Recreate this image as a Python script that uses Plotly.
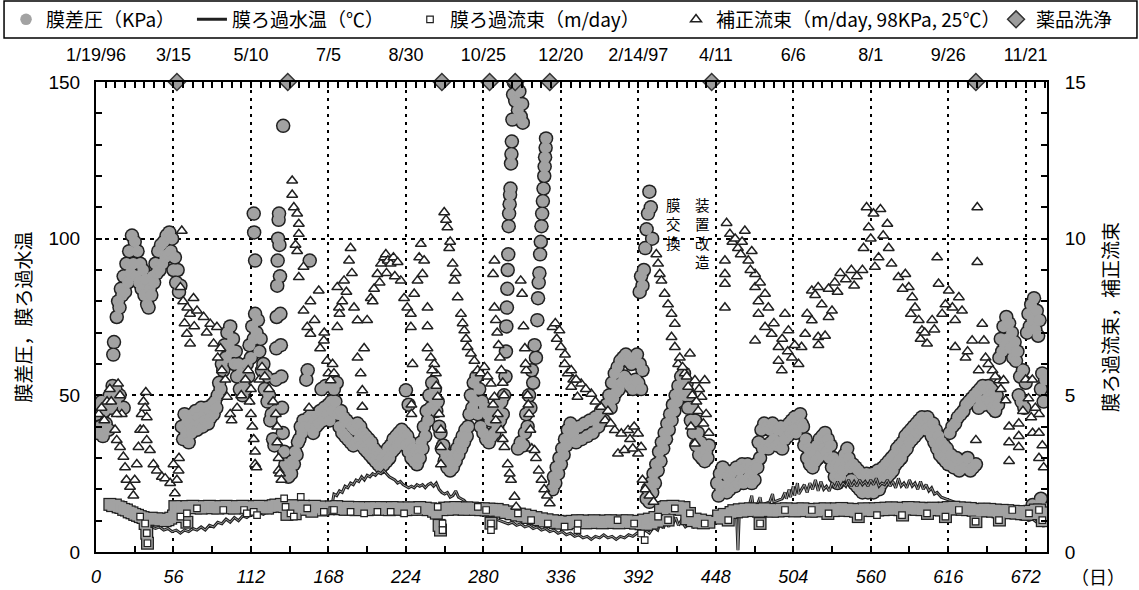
import plotly.graph_objects as go

# ---------------- data ----------------
TICK_DAYS = [0, 56, 112, 168, 224, 280, 336, 392, 448, 504, 560, 616, 672]
TOP_DATES = ["1/19/96", "3/15", "5/10", "7/5", "8/30", "10/25", "12/20",
             "2/14/97", "4/11", "6/6", "8/1", "9/26", "11/21"]

# 膜差圧 (kPa) : (day, value)
pressure = [
    (0,44),(1,38),(2,46),(3,40),(4,48),(5,37),(6,45),(7,41),(8,47),(9,39),(10,50),(11,46),(12,53),(12.5,63),(13,67),
    (14,52),(14,48),(15,75),(16,80),(17,78),(17,50),(18,84),(19,82),(20,88),(20,46),(21,83),(22,92),(23,86),(24,96),(25,89),
    (26,101),(27,92),(28,99),(29,88),(30,96),(31,86),(32,92),(33,84),(34,90),(35,82),(36,87),(37,79),(38,78),(39,84),
    (40,82),(41,88),(42,86),(43,92),(44,89),(45,96),(46,90),(47,98),(48,92),(49,99),(50,94),(51,101),(52,95),(53,102),
    (54,96),(55,100),(56,90),(57,94),(58,86),(59,90),(60,83),(61,85),
    (62,40),(63,36),(64,44),(65,38),(66,42),(67,35),(68,41),(69,38),(70,44),(71,40),(72,45),(73,39),(74,43),(75,41),
    (76,46),(77,40),(78,44),(79,42),(80,46),(81,41),(82,45),(83,43),(84,47),(85,44),(86,48),(87,46),(88,50),
    (89,54),(90,52),(91,60),(92,58),(93,66),(94,62),(95,70),(96,66),(97,72),(98,64),(99,68),(100,60),(101,64),(102,56),
    (103,60),(104,52),(105,57),(106,50),(107,55),(108,52),(109,60),(110,56),(111,66),(112,62),(113,72),(114,68),(115,76),
    (116,70),(117,74),(118,64),(119,68),(120,58),(121,60),(122,52),(123,56),(124,48),(125,50),(126,42),(127,44),(128,36),
    (114,108),(114.3,102),(115,93),
    (129,34),(129.5,45),(130,55),(130.3,65),(130.6,75),(131,85),(131.3,93),(131.6,100),(132,106),(132.3,108),(132.6,98),
    (133,88),(133.3,76),(133.6,66),(134,56),(134.5,46),(135,38),(135.3,136),(136,32),(137,28),(138,26),(139,24),(140,27),
    (141,25),(142,29),(143,28),(144,32),(145,31),(146,35),
    (147,36),(148,40),(149,38),(150,42),(151,40),(152,55),(153,58),(154,43),(154.5,93),(155,40),(156,44),(157,38),(158,42),
    (159,40),(160,44),(161,41),(162,45),(163,52),(164,42),(165,46),(166,53),(167,44),(168,47),(169,42),(170,48),(171,45),
    (172,52),(173,48),(174,54),
    (175,44),(176,40),(177,45),(178,38),(179,43),(180,37),(181,42),(182,36),(183,41),(184,35),(185,40),(186,34),(187,39),
    (188,35),(189,41),(190,36),(191,40),(192,34),(193,38),(194,33),(195,37),(196,32),(197,36),(198,31),(199,35),(200,30),
    (201,33),(202,29),(203,32),(204,28),(205,31),(206,27),(207,30),(208,28),(209,31),(210,29),(211,33),(212,30),(213,34),
    (214,32),(215,36),(216,33),(217,37),(218,34),(219,38),(220,35),(221,39),(222,36),(223,38),(224,34),(224,51.6),(225,37),
    (226,32),(226,47),(227,35),(228,30),(229,33),(230,29),(231,32),(232,28),(233,31),(234,30),(235,35),(236,33),(237,40),
    (238,37),(239,45),(240,42),(241,50),(242,46),(243,54),(244,49),(245,52),(246,45),(247,48),(248,40),(249,38),(250,33),
    (251,34),(252,29),(253,31),(254,27),(255,29),(256,26),(257,29),(258,27),(259,31),(260,29),(261,33),(262,31),(263,35),
    (264,33),(265,37),(266,35),(267,39),(268,37),(269,40),
    (270,44),(271,50),(272,46),(273,54),(274,48),(275,56),(276,44),(277,52),(278,40),(279,48),(280,38),(281,46),(282,36),
    (283,44),(284,35),(285,42),(286,37),(287,45),(288,38),(289,46),(290,40),(291,47),(292,42),(293,48),(294,44),(295,50),
    (296,56),(296.3,64),(296.6,72),(297,78),(297.3,84),(297.6,90),(298,95),(298.3,104),(298.6,108),(299,111),(299.3,114),
    (299.6,116),(300,124),(300.3,127),(300.6,131),(301,138),(301.5,146),(302,150),(303,144),(304,149),(305,141),(306,147),
    (307,139),(308,143),(308.5,137),
    (305,33),(307,35),(309,34),(310,38),(311,44),(312,40),(313,50),(314,46),(315,58),(316,54),(317,66),(318,62),(319,74),
    (319.5,81),(320,86),(320.5,89),(321,95),(321.5,99),(322,104),(322.5,108),(323,112),(323.5,116),(324,120),(324.3,123),
    (324.6,126),(325,129),(325.3,132),
    (330,20),(331,24),(332,22),(333,27),(334,25),(335,30),(336,28),(337,33),(338,31),(339,36),(340,34),(341,39),(342,37),
    (343,41),(344,36),
    (345,38),(347,35),(349,40),(351,36),(353,41),(355,37),(357,42),(359,38),(361,43),(363,40),(365,45),(367,42),(369,47),
    (371,50),(372,46),(373,54),(374,49),(375,57),(376,51),(377,59),(378,52),(379,61),(380,54),(381,62),(382,56),(383,63),
    (384,55),(385,61),(386,53),(387,60),(388,52),(389,62),(390,55),(391,63),(392,54),(393,60),(394,52),(395,58),
    (393,83),(394,88),(395,85),(396,90),(397,97),(398,103),(399,108),(400,115),(401,110),(402,100),
    (398,17),(399,20),(400,16),(401,22),(402,19),(403,25),(404,22),(405,28),(406,26),(407,32),(408,29),(409,35),(410,33),
    (411,38),(412,36),(413,41),(414,39),(415,44),(416,42),(417,47),(418,45),(419,50),(420,48),(421,53),(422,51),(423,56),
    (424,52),(425,57),(426,50),(427,54),(428,46),(429,50),(430,42),(431,46),(432,38),(433,42),(434,34),(435,38),(436,31),
    (437,35),(438,30),(439,33),(440,29),(441,32),(442,30),(443,34),
    (449,22),(450,18),(451,25),(452,20),(453,27),(454,21),(455,26),(456,19),(457,24),(458,20),(459,25),(460,22),(461,26),
    (462,21),(463,27),(464,22),(465,26),(466,23),(467,28),(468,22),(469,27),(470,23),(471,28),(472,24),(473,27),(474,22),
    (475,26),(476,23),(477,28),(478,27),(479,35),(480,30),(481,39),(482,33),(483,41),(484,34),(485,40),(486,33),(487,39),
    (488,35),(489,41),(490,36),(491,40),(492,34),(493,39),(494,35),(495,40),(496,33),(497,38),(498,36),(499,40),(500,37),
    (501,41),(502,38),(503,42),(504,39),(505,43),(506,38),(507,42),(508,40),(509,44),(510,41),(511,40),(512,34),(513,36),
    (514,30),(515,33),(516,28),(517,32),(518,27),(519,31),(520,29),(521,34),(522,30),(523,36),(524,31),(525,37),(526,33),
    (527,38),(528,32),(529,36),(530,30),(531,34),(532,27),(533,30),(534,24),(535,28),(536,22),(537,27),(538,24),(539,29),
    (540,26),(541,31),(542,29),(543,33),(544,30),(545,27),(546,23),(547,28),(548,22),(549,27),(550,21),(551,26),(552,20),
    (553,25),(554,19),(555,24),(556,20),(557,25),(558,19),(559,24),(560,20),(561,25),(562,19),(563,24),(564,21),(565,26),
    (566,20),(567,25),(568,22),(569,27),(570,23),(571,28),(572,24),(573,29),(574,25),(575,30),(576,26),(577,31),(578,28),
    (579,33),(580,29),(581,34),(582,30),(583,35),(584,32),(585,37),(586,33),(587,38),(588,35),(589,39),(590,36),(591,40),
    (592,37),(593,41),(594,38),(595,42),(596,39),(597,43),(598,40),(599,42),(600,39),(601,43),(602,40),
    (603,40),(604,37),(605,41),(606,35),(607,39),(608,33),(609,37),(610,31),(611,35),(612,30),(613,34),(614,29),(615,33),
    (616,28),(617,38),(618,31),(619,40),(620,27),(621,41),(622,30),(623,43),(624,26),(625,44),(626,29),(627,45),(628,27),
    (629,47),(630,30),(631,48),(632,26),(633,49),(634,27),(635,50),(636,28),(637,51),(638,46),(639,52),(640,48),(641,53),
    (642,47),(643,52),(644,49),(645,53),(646,48),(647,52),(648,46),(649,51),(650,45),(651,50),(652,47),
    (653,62),(654,68),(655,64),(656,72),(657,66),(658,75),(659,68),(660,73),(661,65),(662,70),(663,62),(664,67),(665,61),
    (666,64),(667,50),(668,56),(669,48),(670,58),(671,46),(672,54),(673,70),(674,76),(675,72),(676,79),(677,74),(678,81),
    (679,71),(680,77),(681,69),(682,74),(683,52),(684,57),(685,48),(686,55),(677,15),(680,13),(683,17),(685,14),
]

# 膜ろ過水温 (°C) : (day, value); None marks a gap
temperature = [
    (10,14.5),(13,13.5),(16,13),(19,12),(22,11.5),(25,10.5),(28,10),(31,9.5),(34,9),(37,8.5),(40,8),(43,7.5),(46,8),
    (49,7),(52,7.5),(55,6.5),(58,7),(61,6),(64,7),(67,6.5),(70,7.5),(73,7),(76,8),(79,7),(82,8.5),(85,8),(88,9.5),(91,9),
    (94,10.5),(97,9.5),(100,11),(103,10),(106,11.5),(109,11),(112,12),(115,11.5),(118,12.5),(121,12),(124,13),(127,12.5),
    (130,13.5),(133,13),(136,14),(139,13.5),(142,14.5),(145,14),(148,15),(151,14.5),(154,15),(157,14.5),(160,15.5),
    (163,15),(166,15.5),(169,15),(171,16),(172,18.5),(174,18),(176,19.5),(178,19),(180,21),(182,20.5),(184,22),(186,21.5),
    (188,23),(190,22.5),(192,24),(194,23),(196,24.5),(198,24),(200,25),(202,24.5),(204,25.5),(206,25),(208,26),(210,25),
    (212,24),(214,23.5),(216,23),(218,22),(220,22.5),(222,21.5),(224,21),(226,20.5),(228,21),(230,20.5),(232,21.5),
    (234,21),(236,21.5),(238,20.5),(240,21.5),(242,22),(244,21),(246,22),(248,20),(250,19),(252,18.5),(254,19),(256,17.5),
    (258,18),(260,19.5),(262,17.5),(264,17),(266,16.5),(268,15.5),(271,14.5),(274,13.5),(277,13),(280,12),(283,11.5),
    (286,11),(289,10.5),(292,10),(295,9.5),(298,9),(301,9.5),(304,8.5),(307,9),(310,8),(313,8.5),(316,7.5),(319,8),
    (322,7),(325,7.5),(328,6.5),(331,7),(334,6),(337,6.5),(340,5.5),(343,6),(346,5),(349,5.5),(352,4.5),(355,5),(358,4),
    (361,5),(364,4.5),(367,5.5),(370,4.5),(373,5),(376,4),(379,5),(382,4.5),(385,5.5),(388,5),(391,6),(394,5.5),(397,7),
    (400,6),(403,8),(406,7),(408,9.5),(410,7.5),(412,10),(414,8),(416,12.5),(417,9),(419,11),(421,8.5),(423,10),(426,8),
    (429,9),(432,8),(435,9.5),(438,8.5),(441,9),(444,8),(446,None),
    (450,11),(453,12),(456,12.5),(459,13),(461,13),(463,12),(464,0.6),(465,12.5),(466,13.5),(469,14),(472,14.5),(474,18),
    (475,14.5),(478,15),(480,17.5),(481,15),(484,15.5),(487,16),(489,18.5),(490,16),(493,16.5),(496,17),(498,19),(499,17),
    (501,20),(502,17.5),(504,21),(505,18),(507,22),(508,18.5),(510,20),(512,21.5),(514,19),(516,22),(518,20),(520,23),
    (522,19.5),(524,22.5),(526,20),(528,21),(530,19.5),(532,22),(534,20.5),(536,22.5),(538,20.5),(540,22),(542,21),
    (544,23),(546,21),(548,22.5),(550,21),(552,23),(554,21.5),(556,22.5),(558,21),(560,23),(562,21.5),(564,23.5),(566,21),
    (568,22),(570,21.5),(572,23),(574,21),(576,22.5),(578,20.5),(580,23.5),(582,21),(584,22),(586,20.5),(588,23),(590,21),
    (592,22),(594,20),(596,22.5),(598,20),(600,21.5),(602,19.5),(604,20.5),(606,18.5),(608,19),(611,17.5),(614,17),
    (617,16.5),(620,16),(623,15.5),(626,15),(629,14.5),(632,14),(635,13.5),(638,13),(641,13.5),(644,12.5),(647,13),
    (650,12),(653,12.5),(656,11.5),(659,12),(662,11),(665,11.5),(668,10.5),(671,11),(674,10),(677,10.5),(680,9.5),
    (683,10),(685,8),(686,10),
]

# 膜ろ過流束 (m/day), dense daily readings forming the band
flux = [
    (10,1.52),(12,1.48),(14,1.50),(16,1.44),(18,1.42),(20,1.36),(22,1.34),(24,1.28),(26,1.25),(28,1.20),(30,1.17),
    (32,1.13),(34,1.10),(35.5,0.91),(36.7,0.60),(37.2,0.28),(38,1.06),(40,1.08),(42,1.04),(44,1.06),(46,1.02),(48,1.05),
    (50,1.00),(52,1.03),(54,1.08),(56,1.15),(57,1.45),(59,1.40),(61,1.13),(62,1.44),(64,1.40),(65.7,0.95),(66,1.45),
    (68,1.42),(70,1.46),(72,1.41),(74,1.44),(76,1.40),(78,1.45),(80,1.42),(82,1.46),(84,1.41),(86,1.44),(88,1.40),
    (90,1.45),(92,1.42),(94,1.46),(96,1.41),(98,1.44),(100,1.40),(102,1.45),(104,1.42),(106,1.46),(108,1.41),(110,1.44),
    (112,1.40),(114,1.45),(116,1.42),(118,1.46),(120,1.41),(122,1.44),(124,1.40),(126,1.45),(128,1.48),(130,1.50),
    (132,1.46),(134,1.52),(136,1.45),(138,1.20),(140,1.42),(142,1.48),(144,1.22),(146,1.44),(148,1.40),(150,1.46),
    (152,1.36),(154,1.44),(156,1.30),(158,1.46),(160,1.40),(162,1.44),(164,1.34),(166,1.42),(168,1.38),(170,1.44),
    (172,1.40),(174,1.45),(176,1.38),(178,1.42),(180,1.36),(182,1.43),(184,1.38),(186,1.41),(188,1.35),(190,1.42),
    (192,1.37),(194,1.40),(196,1.35),(198,1.42),(200,1.38),(202,1.41),(204,1.36),(206,1.42),(208,1.37),(210,1.40),
    (212,1.35),(214,1.42),(216,1.38),(218,1.41),(220,1.36),(222,1.40),(224,1.35),(226,1.41),(228,1.37),(230,1.40),
    (232,1.36),(234,1.42),(236,1.38),(238,1.40),(240,1.35),(242,1.38),(244,1.30),(246,1.24),(248,0.85),(249,0.70),
    (250,1.35),(252,1.40),(254,1.36),(256,1.41),(258,1.37),(260,1.42),(262,1.38),(264,1.40),(266,1.36),(268,1.41),
    (270,1.37),(272,1.40),(274,1.36),(276,1.39),(278,1.35),(280,1.38),(282,1.34),(284,1.37),(285.5,0.92),(286,1.36),
    (288,1.33),(290,1.36),(292,1.30),(294,1.32),(296,1.26),(298,1.28),(300,1.22),(302,1.25),(304,1.18),(306,1.21),
    (308,1.15),(310,1.18),(312,1.10),(314,1.14),(316,1.06),(318,1.10),(320,1.03),(322,1.06),(324,0.99),(326,1.03),
    (328,0.97),(330,1.00),(332,0.94),(334,0.98),(336,0.92),(338,0.96),(340,0.90),(342,0.95),(344,0.98),(346,0.94),
    (348,1.00),(350,0.95),(352,0.99),(354,0.93),(356,0.98),(358,0.94),(360,1.00),(362,0.95),(364,0.98),(366,0.93),
    (368,0.99),(370,0.95),(372,1.00),(374,0.94),(376,0.98),(378,0.93),(380,0.99),(382,0.95),(384,1.00),(386,0.94),
    (388,0.97),(390,0.92),(392,0.98),(394,0.90),(396,1.02),(398,0.88),(400,1.05),(402,0.92),(404,1.10),(406,0.98),
    (408,1.42),(410,1.38),(412,1.45),(413.5,1.02),(415,1.40),(417,1.46),(419,1.38),(421,1.44),(423,1.36),(425,1.42),
    (427,1.06),(429,1.23),(431,1.00),(433,1.05),(435,0.95),(437,1.02),(439,0.93),(441,0.98),(443,0.95),
    (450,1.15),(452,1.08),(454,1.20),(456,1.12),(457,1.02),(459,1.26),(461,1.32),(463,1.28),(465,1.35),(467,1.30),
    (469,1.37),(471,1.32),(473,1.38),(475,1.33),(477,1.36),(479,1.30),(480,0.91),(481,1.35),(483,1.38),(485,1.32),
    (487,1.36),(489,1.30),(491,1.35),(493,1.31),(495,1.37),(497,1.32),(499,1.38),(501,1.33),(503,1.36),(505,1.31),
    (507,1.37),(509,1.32),(511,1.38),(513,1.33),(515,1.36),(517,1.30),(519,1.35),(521,1.31),(523,1.37),(525,1.33),
    (527,1.38),(529,1.23),(531,1.36),(533,1.32),(535,1.38),(537,1.34),(539,1.39),(541,1.33),(543,1.37),(545,1.32),
    (547,1.36),(549,1.30),(551,1.13),(553,1.34),(555,1.38),(557,1.33),(559,1.37),(561,1.32),(563,1.38),(565,1.34),
    (567,1.39),(569,1.35),(571,1.40),(573,1.36),(575,1.41),(577,1.37),(579,1.40),(581,1.35),(583,1.18),(585,1.38),
    (587,1.42),(589,1.37),(591,1.41),(593,1.36),(595,1.40),(597,1.35),(599,1.39),(601,1.23),(603,1.36),(605,1.40),
    (607,1.35),(609,1.39),(611,1.34),(613,1.40),(614,1.13),(616,1.42),(618,1.37),(620,1.43),(622,1.38),(624,1.41),
    (626,1.36),(628,1.40),(630,1.35),(632,1.39),(634,1.33),(636,0.97),(638,1.36),(640,1.31),(642,1.37),(644,1.32),
    (646,1.36),(648,1.30),(650,1.34),(652,1.28),(653,1.02),(655,1.33),(657,1.27),(659,1.32),(661,1.25),(663,1.30),
    (665,1.24),(667,1.29),(669,1.22),(671,1.28),(673,1.20),(675,1.30),(677,1.22),(679,1.34),(681,1.26),(682,1.34),
    (684,1.00),(686,1.25),
]

# individually visible 膜ろ過流束 squares (m/day)
flux_marks = [
    (31.9,1.13),(35.5,0.91),(36.7,0.60),(37.2,0.28),(61,1.13),(65.7,0.91),(65.7,1.23),(73,1.39),(92,1.34),(107,1.34),
    (109,1.23),(114,1.28),(116.4,1.18),(136,1.71),(137,1.44),(140.6,1.23),(143,1.13),(148,1.76),(152.7,1.39),
    (164.7,1.28),(170.8,1.34),(172,1.34),(184,1.28),(193.8,1.23),(203.4,1.28),(213,1.28),(222.7,1.23),(232.4,1.34),
    (247,1.44),(250.5,0.91),(250.5,0.70),(276,1.44),(282,1.34),(285.5,0.91),(285.5,0.70),(305,1.23),(314.5,1.02),
    (326.6,0.91),(338.7,0.81),(348,0.70),(348.3,0.91),(377,1.02),(389,0.91),(394,0.59),(396.6,0.38),(406.3,1.13),
    (413.5,1.02),(418.4,1.39),(429.3,1.23),(440,0.91),(457,1.02),(480,0.91),(498,1.34),(517.4,1.34),(529.5,1.23),
    (551.2,1.13),(564.5,1.18),(582.6,1.18),(600.7,1.23),(614,1.13),(623.7,1.34),(635.8,0.97),(652.7,1.02),
    (662.3,1.34),(674.4,1.23),(681.6,1.34),(684,1.02),
]

# 補正流束 (m/day, 98KPa, 25°C)
corrected = [
    (2,4.4),(4,4.6),(6,4.2),(8,4.8),(10,5.2),(11,4.8),
    (16,5.37),(17.4,5.0),(18.6,4.4),(15,4.4),(13.8,3.9),(15,3.57),(17.4,3.35),(19.8,3.04),(21,2.7),(22,2.3),(24.6,2.08),
    (27,1.8),(28,2.3),(29.5,2.8),(30.7,3.35),(31.9,3.9),(33,4.4),(34.3,4.8),(36,5.1),(35.5,4.6),(36.7,4.3),(34.3,3.9),
    (36.7,3.57),(39,3.25),(41.5,2.8),(44,2.6),(47.6,2.4),(50,2.35),(53.6,2.2),(57,1.87),(58.5,2.3),(59.7,2.6),(56,2.8),
    (60,3.0),
    (62,10.25),(61,8.45),(63,8.0),(70.5,8.1),(68,7.6),(73,7.7),(65.7,6.96),(68,6.65),(64,7.3),(66,7.8),(71,7.2),
    (77.8,7.5),(82.6,7.28),(87.4,7.18),(85,6.65),(90,6.5),(91,5.8),(93.5,5.5),(94.7,4.95),(97,4.4),(98,4.2),(80,7.0),
    (88,6.2),
    (102,4.6),(105,5.0),(108,5.5),(110,5.8),(112,5.2),(111,4.8),(112,4.4),(113,4.0),(114,3.6),(115,3.2),(115,2.8),
    (116,2.7),(118,5.5),(120,5.9),(122,5.6),(125,5.2),(128,4.8),(130,4.4),(131,4.0),(131,3.5),(132,3.0),(132,2.6),
    (133,2.5),(134,2.3),
    (141.8,11.85),(141.8,11.4),(143,11.0),(145.4,10.8),(146.6,10.47),(146.6,10.15),(144.2,9.8),(145.4,9.6),(150,9.1),
    (146.6,8.77),(154,4.6),
    (161,8.34),(155,8.0),(150,7.7),(152.7,7.18),(155,6.96),(162,6.5),(164.7,6.75),(167,6.1),(168,5.7),(169.6,5.48),
    (174.4,8.45),(175.6,7.8),(158,7.4),(165,7.0),(171,6.0),
    (174.4,7.18),(172,5.7),(179.3,8.66),(184,9.7),(182.9,9.3),(186.5,7.8),(189,7.39),(189,6.2),(191.3,5.7),(192.5,5.16),
    (192.5,4.63),(176,7.6),(178,8.0),(181,8.3),(185,8.9),
    (193.8,6.5),(196,7.4),(198.6,8.1),(201,8.4),(203.4,8.87),(206,9.2),(208.3,9.4),(209.5,9.5),(211,9.3),(213,9.2),
    (215,9.4),(218,9.25),(220.3,8.66),(222.7,8.1),(225,7.8),(227.6,7.6),(227.6,7.18),(228.8,6.0),(200,8.0),(205,8.6),
    (210,8.9),(216,8.8),(228,4.7),(228,4.4),
    (230,8.24),(232.4,8.66),(233.6,9.4),(234.8,9.83),(236,8.87),(237.2,9.3),(239.6,7.8),(239.6,7.2),(239.6,6.5),(242,6.2),
    (244.5,6.0),(245.7,5.7),(247,4.95),(248,4.4),(249.3,3.9),(249.3,3.35),(249.3,2.8),(243,5.8),(246,5.3),
    (251.7,10.84),(253,10.6),(254,10.36),(255.3,9.7),(256,9.9),(257.8,9.2),(259,8.66),(260,8.9),(261.4,8.13),
    (263.8,7.6),(265,7.3),(266.2,7.07),(267.5,6.8),(268.6,6.54),(271,6.33),(273.5,6.1),(275.9,5.8),(278,5.7),(280.7,5.9),
    (283,5.6),
    (288,9.3),(287,8.87),(288,7.8),(289,7.4),(290,7.0),(291,6.6),(292,6.2),(293,5.8),(294,5.4),(295,5.0),
    (285.5,5.37),(288,4.95),(290.4,4.4),(292.8,3.89),(295.2,3.35),(297.6,2.8),(300,2.3),(302.5,1.76),(303.7,1.44),
    (287,4.7),(289,4.2),(294,3.6),(299,2.5),
    (307,8.66),(308,8.24),(309,7.2),(310,6.5),(311,5.8),(312,5.0),(313,4.4),(314,3.9),(315,3.3),(317,3.25),(318,3.0),
    (320,2.6),(322,2.3),(324,2.0),(326,1.8),(328,1.55),(312.5,4.7),(310.5,6.0),
    (330,7.18),(332,7.3),(335,7.07),(336,6.54),(338.7,6.0),(341,5.7),(343.5,5.27),(348,4.95),(333,6.8),(339,6.3),
    (345,5.5),
    (343.5,5.8),(350.7,5.37),(358,5.05),(365,4.63),(370,4.5),(375,3.89),(379.7,3.78),(384.6,3.89),(389,4.0),(391.8,3.78),
    (394,3.35),(391.8,3.14),(377.3,3.14),(382,3.25),(347,5.5),(354,5.2),(361,4.8),(368,4.2),(372,4.1),(386,3.6),
    (388,3.3),(395,2.3),(397,2.0),(400,1.8),(403,1.6),
    (405,9.5),(406.3,9.2),(407.5,8.87),(408.7,8.66),(411,8.24),(413.5,7.9),(416,7.6),(418.4,7.28),(416,6.86),
    (418.4,6.54),(420.8,6.0),(429.3,6.33),(425.6,5.7),(428,5.27),(432.9,5.48),(440,5.48),(437.7,4.95),(435.3,4.5),
    (439,4.1),(432.9,3.46),(430,4.0),(422,6.2),(424,5.9),(427,5.6),(431,5.0),(434,4.8),(436,5.2),(441,4.4),(443,3.8),
    (455.8,10.5),(458.2,10.15),(454.6,9.3),(454.6,8.87),(454.6,8.56),(454.6,7.8),(469,10.25),(464,9.7),(474,9.6),
    (471.5,9.3),(476.4,8.87),(476.4,8.45),(478.8,8.0),(483.6,8.24),(486,7.8),(478.8,7.6),(476.4,6.75),(483.6,7.18),
    (488.4,6.96),(493.3,6.54),(498,7.6),(500.5,7.07),(495.7,5.8),(493.3,6.1),(503,6.2),(507.8,6.0),(510,6.54),
    (512.6,6.96),(517.4,8.34),(522,8.45),(517.4,7.39),(522,6.86),(460,9.9),(462,10.0),(466,9.5),(467,9.9),(473,9.0),
    (480,8.6),(490,7.3),(496,6.8),(500,6.4),(505,6.6),(514,7.6),
    (519.8,8.2),(524.6,7.9),(529.5,7.5),(527,6.9),(522.2,6.6),(529.5,8.4),(532,7.7),
    (534,8.6),(538,8.9),(542,8.7),(546,9.0),(550,8.8),(554,9.0),(536,8.3),(548,8.5),
    (557,11.0),(567,10.94),(562,10.8),(572,10.47),(558.5,10.36),(554.8,9.7),(565.7,9.4),(563,9.1),(573,9.7),(560,10.0),
    (569,10.1),
    (575,9.2),(580,8.77),(585,8.87),(587.5,8.45),(590,8.13),(592,7.8),(594.7,7.4),(597,7.07),(600.7,6.65),(583,8.4),
    (589,7.6),(596,6.8),(599,7.0),
    (608,9.4),(637,11.0),(637,9.25),(609,8.56),(616.4,8.34),(623.7,8.13),(619,7.8),(611.6,7.6),(604.4,7.4),(626,7.7),
    (606,7.1),(614,7.9),(621,7.4),
    (621,6.54),(628.5,6.2),(633.3,6.75),(640.6,7.28),(641.8,6.75),(643,6.2),(638,5.8),(648,5.8),(652.7,5.48),
    (657.5,4.84),(656,5.48),(636,3.57),(630,6.4),(645,6.0),(650,5.6),(654,5.2),
    (660,4.0),(660,3.5),(660,2.9),(667,4.1),(667,3.7),(667,3.35),(672,5.5),(674,4.9),(676,4.3),(677,3.8),(676.8,5.5),
    (681.6,4.4),(681.6,3.8),(681.6,3.0),(685,2.7),(670,4.5),(679,4.6),(684,3.4),
]

# 薬品洗浄 (chemical cleaning) days
wash_days = [58.5, 138.6, 250, 284.5, 303, 328, 445, 636]
WASH_LEVEL = 150

NOTE_MEMBRANE = "膜<br>交<br>換"
NOTE_MODIFY = "装<br>置<br>改<br>造"

# ---------------- figure ----------------
GRAY = "#a2a2a2"
DARK = "#202020"
CJK = "Noto Sans CJK JP"
LAT = "Liberation Sans"

def unzip(pairs):
    xs = [p[0] for p in pairs]
    ys = [p[1] for p in pairs]
    return xs, ys

p_x, p_y = unzip(pressure)
t_x, t_y = unzip(temperature)
f_x, f_y = unzip(flux)
fm_x, fm_y = unzip(flux_marks)
c_x, c_y = unzip(corrected)

fig = go.Figure()

# pressure: dark underlay + gray body (merged blobs with an outline)
fig.add_trace(go.Scatter(x=p_x, y=p_y, mode="markers", showlegend=False, hoverinfo="skip",
                         marker=dict(symbol="circle", size=14.5, color=DARK, line=dict(width=0))))
fig.add_trace(go.Scatter(x=p_x, y=p_y, mode="markers", name="膜差圧（KPa）", legend="legend",
                         marker=dict(symbol="circle", size=11.5, color=GRAY, line=dict(width=0))))

# flux band (dense squares) on right axis
fig.add_trace(go.Scatter(x=f_x, y=f_y, yaxis="y2", mode="markers", showlegend=False, hoverinfo="skip",
                         marker=dict(symbol="square", size=13, color=DARK, line=dict(width=0))))
fig.add_trace(go.Scatter(x=f_x, y=f_y, yaxis="y2", mode="markers", showlegend=False, hoverinfo="skip",
                         marker=dict(symbol="square", size=10.5, color=GRAY, line=dict(width=0))))

# temperature line
fig.add_trace(go.Scatter(x=t_x, y=t_y, mode="lines", name="膜ろ過水温（℃）", legend="legend2",
                         line=dict(color=DARK, width=3)))
fig.add_trace(go.Scatter(x=t_x, y=t_y, mode="lines", showlegend=False, hoverinfo="skip",
                         line=dict(color="#9a9a9a", width=1)))

# visible flux squares
fig.add_trace(go.Scatter(x=fm_x, y=fm_y, yaxis="y2", mode="markers", name="膜ろ過流束（m/day）", legend="legend3",
                         marker=dict(symbol="square", size=6.5, color="white", line=dict(width=1.2, color=DARK))))

# corrected flux triangles
fig.add_trace(go.Scatter(x=c_x, y=c_y, yaxis="y2", mode="markers", name="補正流束（m/day, 98KPa, 25℃）",
                         legend="legend4",
                         marker=dict(symbol="triangle-up", size=9.5, color="white", line=dict(width=1.5, color=DARK))))

# chemical cleaning diamonds on the top axis
fig.add_trace(go.Scatter(x=wash_days, y=[WASH_LEVEL] * len(wash_days), xaxis="x2", mode="markers",
                         name="薬品洗浄", legend="legend5", cliponaxis=False,
                         marker=dict(symbol="diamond", size=13, color="#9c9c9c", line=dict(width=1.5, color="#333"))))

XR = [0, 687.4]
axis_common = dict(showline=True, linecolor="black", linewidth=2, ticks="inside", ticklen=6,
                   tickwidth=1.5, tickcolor="black", zeroline=False)

def legend_at(xpaper):
    return dict(orientation="h", x=xpaper, xanchor="left", y=1.133, yanchor="middle",
                font=dict(family=CJK, size=19), bgcolor="rgba(0,0,0,0)", borderwidth=0, itemwidth=30)

fig.update_layout(
    width=1139, height=590,
    margin=dict(l=96, r=92, t=82, b=38, autoexpand=False),
    paper_bgcolor="white", plot_bgcolor="white",
    font=dict(family=LAT, color="black"),
    xaxis=dict(range=XR, tickmode="array", tickvals=TICK_DAYS,
               showgrid=True, gridcolor="black", gridwidth=1.5, griddash="3px,5px",
               tickfont=dict(family=LAT, size=18, style="italic"), ticklabelstandoff=7,
               minor=dict(dtick=28, tick0=0, ticks="inside", ticklen=6, tickwidth=1.5, tickcolor="black"),
               **axis_common),
    xaxis2=dict(range=XR, overlaying="x", side="top", anchor="y", tickmode="array",
                tickvals=TICK_DAYS, ticktext=TOP_DATES, showgrid=False,
                tickfont=dict(family=LAT, size=18), ticklabelstandoff=12,
                minor=dict(dtick=7, tick0=0, ticks="inside", ticklen=6, tickwidth=1.5, tickcolor="black"),
                **axis_common),
    yaxis=dict(range=[0, 150], tickmode="array", tickvals=[0, 50, 100, 150],
               showgrid=True, gridcolor="black", gridwidth=1.5, griddash="4px,5px",
               tickfont=dict(family=LAT, size=19), ticklabelstandoff=10,
               minor=dict(dtick=10, tick0=0, ticks="inside", ticklen=6, tickwidth=1.5, tickcolor="black"),
               title=dict(text="膜差圧，膜ろ過水温", font=dict(family=CJK, size=19), standoff=12),
               **axis_common),
    yaxis2=dict(range=[0, 15], overlaying="y", side="right", anchor="x", tickmode="array",
                tickvals=[0, 5, 10, 15], showgrid=False,
                tickfont=dict(family=LAT, size=19), ticklabelstandoff=12,
                minor=dict(dtick=1, tick0=0, ticks="inside", ticklen=6, tickwidth=1.5, tickcolor="black"),
                title=dict(text="膜ろ過流束，補正流束", font=dict(family=CJK, size=19), standoff=20),
                **axis_common),
    legend=legend_at(-0.0946),
    legend2=legend_at(0.1009),
    legend3=legend_at(0.3302),
    legend4=legend_at(0.6099),
    legend5=legend_at(0.9464),
    shapes=[dict(type="rect", xref="paper", yref="paper", x0=-0.0967, x1=1.0946, y0=1.0936, y1=1.1723,
                 line=dict(color="black", width=1.5), fillcolor="rgba(0,0,0,0)", layer="above")],
    showlegend=True,
)

annotations = [
    dict(text="（日）", xref="paper", yref="paper", x=1.0536, y=-0.051, showarrow=False,
         font=dict(family=CJK, size=18), xanchor="center", yanchor="middle"),
    dict(text=NOTE_MEMBRANE, x=417.4, y=104.7, xref="x", yref="y", showarrow=False,
         font=dict(family=CJK, size=14.5), xanchor="center", yanchor="middle"),
    dict(text=NOTE_MODIFY, x=438.4, y=101.8, xref="x", yref="y", showarrow=False,
         font=dict(family=CJK, size=14.5), xanchor="center", yanchor="middle"),
]
fig.update_layout(annotations=annotations)

fig.write_html("out.html", config={"displayModeBar": False},
               post_script="document.body.style.margin='0';document.body.style.overflow='hidden';")
